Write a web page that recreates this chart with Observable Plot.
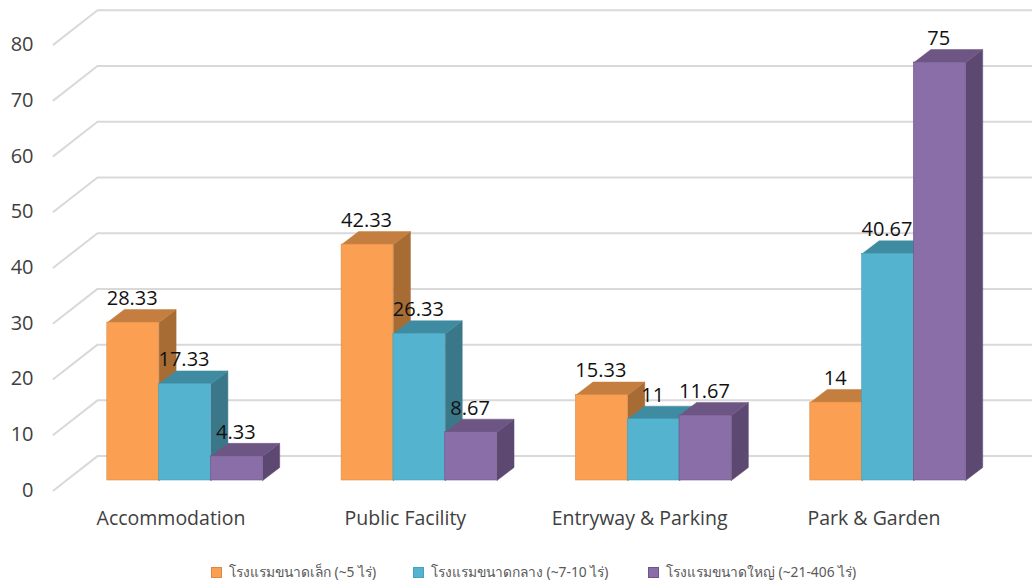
<!DOCTYPE html>
<html><head><meta charset="utf-8">
<script src="https://cdn.jsdelivr.net/npm/d3@7"></script>
<script src="https://cdn.jsdelivr.net/npm/@observablehq/plot@0.6"></script>
<style>
html,body{margin:0;padding:0;background:#fff;}
#legend{position:relative;height:31px;font-family:"Noto Sans","Open Sans",sans-serif;font-size:13.8px;color:#595959;}
#legend .s{position:absolute;top:12px;width:11px;height:11px;}
#legend .t{position:absolute;top:8px;white-space:nowrap;line-height:18px;}
</style></head><body><div id="chart"></div><div id="legend"></div>
<script>
const categories = ["Accommodation","Public Facility","Entryway & Parking","Park & Garden"];
const small = [28.33,42.33,15.33,14];
const medium = [17.33,26.33,11,40.67];
const large = [4.33,8.67,11.67,75];
const seriesNames = ["โรงแรมขนาดเล็ก (~5 ไร่)","โรงแรมขนาดกลาง (~7-10 ไร่)","โรงแรมขนาดใหญ่ (~21-406 ไร่)"];
const yTicks = [0,10,20,30,40,50,60,70,80];

const W=1032,H=555, unit=418/75, base=480;
const pal=[{f:"#FBA052",t:"#C47E3F",s:"#A66C34",e:"#D98A45"},{f:"#54B3CE",t:"#3F8CA2",s:"#3A7889",e:"#4AA0B8"},{f:"#8A6EA8",t:"#6E5684",s:"#5C4870",e:"#6E5488"}];
const series=[small,medium,large];
const x0=106.8,step=234.33,bw=51.8,dx=17,dv=13/unit;
const frontV=-10/unit,backV=24.4/unit;
const marks=[];
for(const v of yTicks){
  marks.push(Plot.line([[53,v+frontV],[97,v+backV],[W,v+backV]],{stroke:"#D9D9D9",strokeWidth:2}));
}
marks.push(Plot.axisY({ticks:yTicks,tickSize:0,tickPadding:0,dy:10,fontSize:20,color:"#404040",label:null,tickFormat:d=>d}));
categories.forEach((c,i)=>{
  series.forEach((vals,j)=>{
    const v=vals[i],a=x0+i*step+j*bw,b=a+bw,p=pal[j];
    marks.push(Plot.line([[b,0],[b+dx,dv],[b+dx,v+dv],[b,v],[b,0]],{fill:p.s,stroke:p.s,strokeWidth:.5}));
    marks.push(Plot.line([[a,v],[a+dx,v+dv],[b+dx,v+dv],[b,v],[a,v]],{fill:p.t,stroke:p.t,strokeWidth:.5}));
    marks.push(Plot.rect([{a,b,v}],{x1:"a",x2:"b",y1:0,y2:"v",fill:p.f,stroke:p.e,strokeWidth:.6}));
  });
});
const labels=categories.flatMap((c,i)=>series.map((vals,j)=>({x:x0+i*step+(j+.5)*bw-1,v:vals[i]})));
marks.push(Plot.text(labels,{x:"x",y:"v",text:d=>String(d.v),dy:-24,fontSize:20,fill:"#111"}));
marks.push(Plot.text(categories.map((c,i)=>({c,x:x0+i*step+1.5*bw-14})),{x:"x",y:()=>0,text:"c",dy:38.5,fontSize:19.5,fill:"#404040"}));

const chart=Plot.plot({
  width:W,height:H,marginLeft:33,marginRight:0,marginTop:0,marginBottom:0,
  style:{fontFamily:"'Open Sans',sans-serif",background:"#fff"},
  x:{type:"linear",domain:[33,W],range:[33,W],axis:null},
  y:{type:"linear",domain:[0,80],range:[base,base-80*unit],axis:null},
  marks
});
document.getElementById("chart").appendChild(chart);
const lg=document.getElementById("legend");
[[211,229],[413,431],[648,666]].forEach(([sx,tx],j)=>{
  const s=document.createElement("div");s.className="s";s.style.left=sx+"px";s.style.background=pal[j].f;s.style.border="0.5px solid "+pal[j].e;s.style.boxSizing="border-box";lg.appendChild(s);
  const t=document.createElement("div");t.className="t";t.style.left=tx+"px";t.textContent=seriesNames[j];lg.appendChild(t);
});
</script></body></html>
